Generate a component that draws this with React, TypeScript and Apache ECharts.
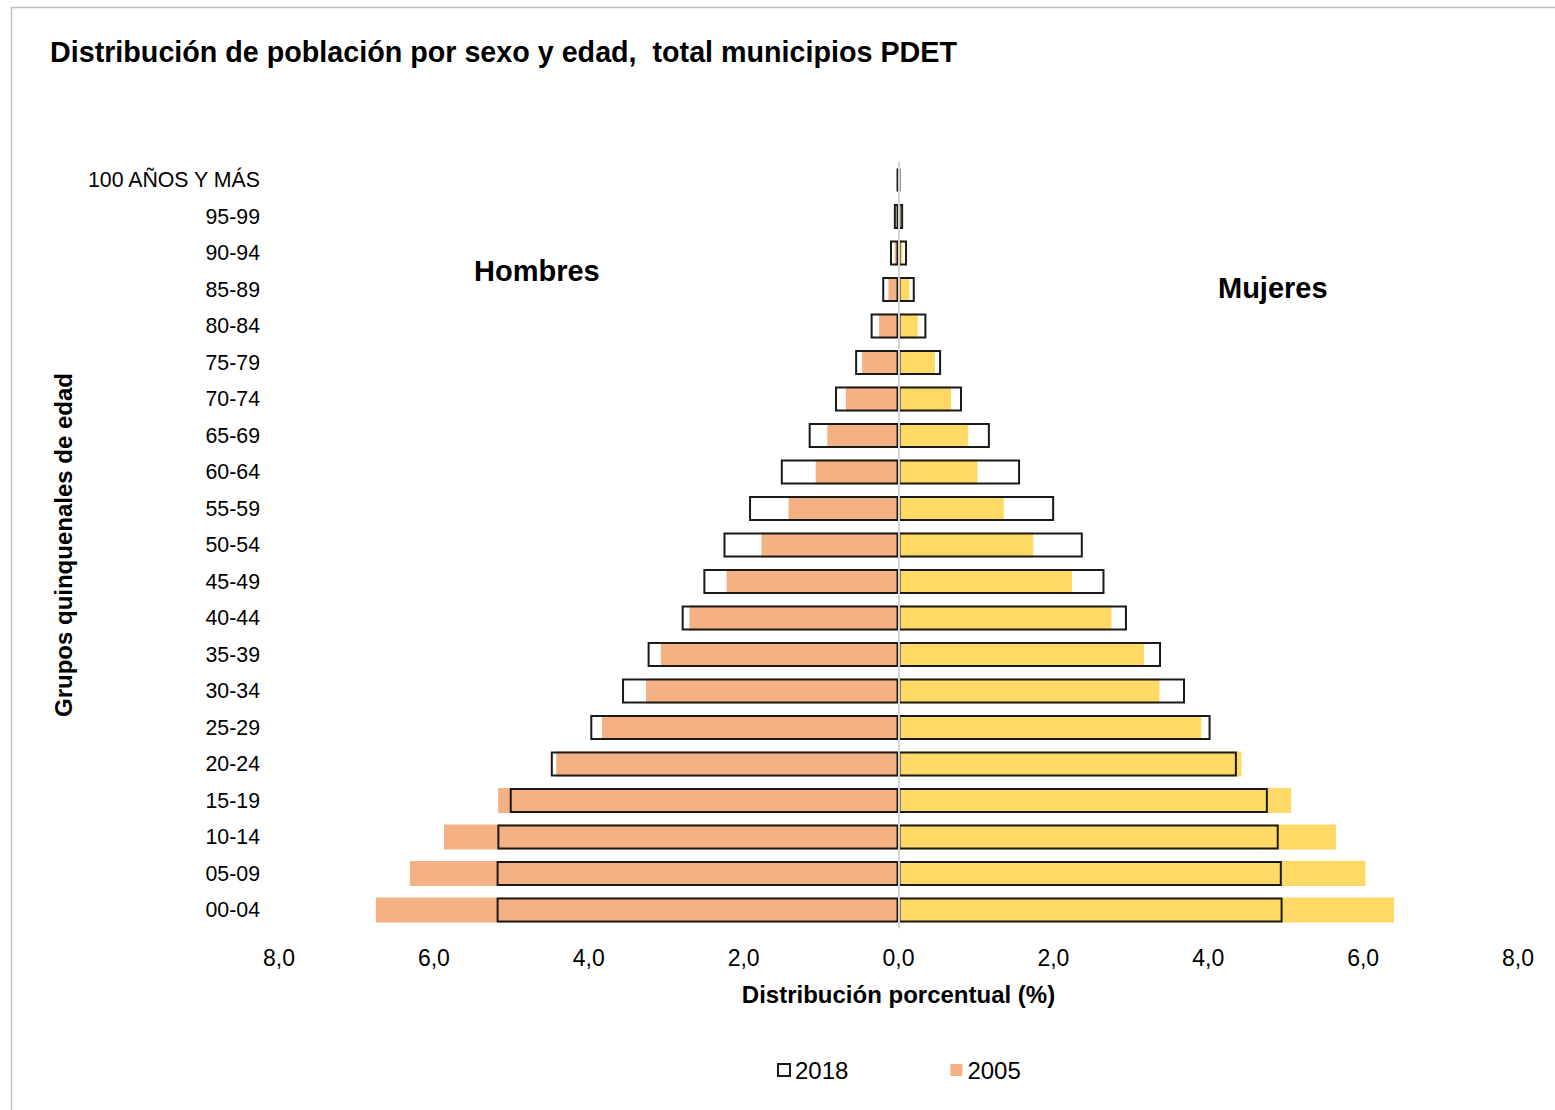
import React, { useEffect, useRef } from "react";
import * as echarts from "echarts";

const categories = [
  "00-04", "05-09", "10-14", "15-19", "20-24", "25-29", "30-34", "35-39",
  "40-44", "45-49", "50-54", "55-59", "60-64", "65-69", "70-74", "75-79",
  "80-84", "85-89", "90-94", "95-99", "100 AÑOS Y MÁS",
];

const men2005 = [6.75, 6.31, 5.87, 5.17, 4.42, 3.83, 3.26, 3.07, 2.7, 2.22, 1.77, 1.42, 1.07, 0.92, 0.68, 0.47, 0.25, 0.13, 0.05, 0.02, 0.01];
const men2018 = [5.19, 5.19, 5.18, 5.02, 4.49, 3.98, 3.57, 3.24, 2.8, 2.52, 2.26, 1.93, 1.52, 1.16, 0.82, 0.56, 0.36, 0.21, 0.11, 0.06, 0.025];
const women2005 = [6.4, 6.03, 5.65, 5.07, 4.43, 3.91, 3.37, 3.17, 2.75, 2.24, 1.74, 1.36, 1.02, 0.9, 0.68, 0.47, 0.25, 0.14, 0.05, 0.03, 0.01];
const women2018 = [4.96, 4.95, 4.91, 4.77, 4.37, 4.03, 3.7, 3.39, 2.95, 2.66, 2.38, 2.01, 1.57, 1.18, 0.82, 0.55, 0.36, 0.21, 0.11, 0.06, 0.025];

const xTicks = { min: -8, max: 8, interval: 2 };

const FONT = "'Liberation Sans', Arial, sans-serif";
const ORANGE = "#F4B183";
const YELLOW = "#FFD966";

export default function App() {
  const ref = useRef<HTMLDivElement>(null);

  useEffect(() => {
    if (!ref.current) return;
    const chart = echarts.init(ref.current, null, { renderer: "svg" });

    const outline = {
      color: "rgba(255,255,255,0)",
      borderColor: "#1a1a1a",
      borderWidth: 2,
    };

    chart.setOption({
      animation: false,
      backgroundColor: "#ffffff",
      textStyle: { fontFamily: FONT },
      title: {
        text: "Distribución de población por sexo y edad,  total municipios PDET",
        left: 50,
        top: 37,
        padding: 0,
        textStyle: { fontFamily: FONT, fontSize: 28.7, fontWeight: "bold", color: "#000" },
      },
      legend: {
        data: ["2018", "2005"],
        left: 777,
        top: 1058,
        padding: 0,
        itemWidth: 12,
        itemHeight: 12,
        itemGap: 102,
        icon: "rect",
        textStyle: { fontFamily: FONT, fontSize: 24, color: "#000" },
      },
      grid: {
        left: 279,
        right: 37,
        top: 161.75,
        bottom: 181.75,
        containLabel: false,
        outerBoundsMode: "none",
      },
      xAxis: {
        type: "value",
        min: xTicks.min,
        max: xTicks.max,
        interval: xTicks.interval,
        name: "Distribución porcentual (%)",
        nameLocation: "middle",
        nameGap: 54,
        nameTextStyle: { fontFamily: FONT, fontSize: 24, fontWeight: "bold", color: "#000" },
        axisLine: { show: false },
        axisTick: { show: false },
        splitLine: { show: false },
        axisLabel: {
          fontFamily: FONT,
          fontSize: 23,
          color: "#000",
          margin: 18,
          formatter: (v: number) => Math.abs(v).toFixed(1).replace(".", ","),
        },
      },
      yAxis: {
        type: "category",
        data: categories,
        name: "Grupos quinquenales de edad",
        nameLocation: "middle",
        nameGap: 202,
        nameTextStyle: { fontFamily: FONT, fontSize: 24, fontWeight: "bold", color: "#000" },
        axisLine: { show: false },
        axisTick: { show: false },
        splitLine: { show: false },
        axisLabel: { fontFamily: FONT, fontSize: 21.3, color: "#000", margin: 19 },
      },
      series: [
        {
          name: "2005",
          type: "bar",
          data: men2005.map((v) => -v),
          barWidth: 25,
          barGap: "-100%",
          itemStyle: { color: ORANGE },
        },
        {
          name: "2005",
          type: "bar",
          data: women2005,
          barWidth: 25,
          barGap: "-100%",
          itemStyle: { color: YELLOW },
        },
        {
          name: "2018",
          type: "bar",
          data: men2018.map((v) => -v),
          barWidth: 25,
          barGap: "-100%",
          itemStyle: outline,
        },
        {
          name: "2018",
          type: "bar",
          data: women2018,
          barWidth: 25,
          barGap: "-100%",
          itemStyle: outline,
          markLine: {
            silent: true,
            symbol: "none",
            label: { show: false },
            lineStyle: { color: "#d4d4d4", width: 2, type: "solid" },
            data: [{ xAxis: 0 }],
          },
        },
      ],
      graphic: [
        {
          type: "rect",
          silent: true,
          shape: { x: 11.5, y: 7.5, width: 1600, height: 1200 },
          style: { fill: "none", stroke: "#c0c0c0", lineWidth: 1.5 },
        },
        {
          type: "text",
          x: 474,
          y: 271,
          style: {
            text: "Hombres",
            fontFamily: FONT,
            fontSize: 29,
            fontWeight: "bold",
            fill: "#000",
            align: "left",
            verticalAlign: "middle",
          },
        },
        {
          type: "text",
          x: 1218,
          y: 288,
          style: {
            text: "Mujeres",
            fontFamily: FONT,
            fontSize: 29,
            fontWeight: "bold",
            fill: "#000",
            align: "left",
            verticalAlign: "middle",
          },
        },
      ],
    });

    return () => chart.dispose();
  }, []);

  return (
    <div
      ref={ref}
      style={{ position: "absolute", left: 0, top: 0, width: 1555, height: 1110 }}
    />
  );
}
